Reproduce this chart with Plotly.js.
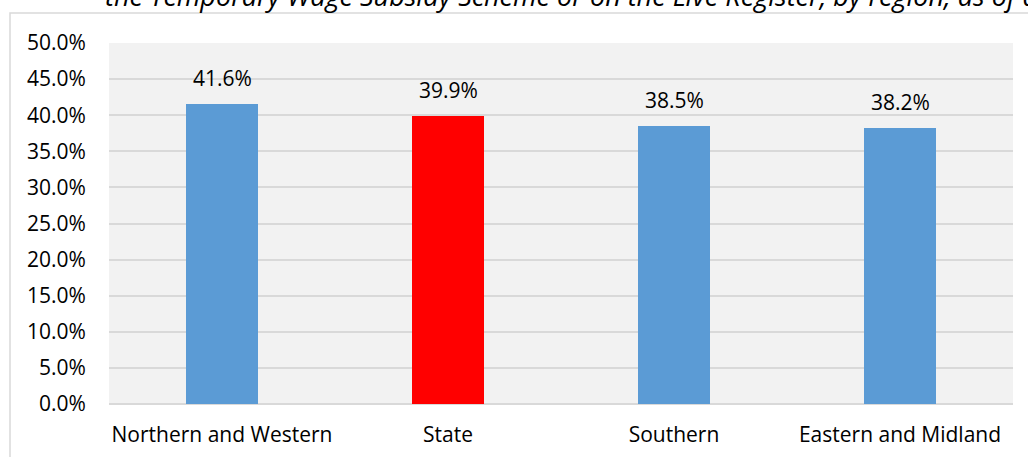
<!DOCTYPE html>
<html>
<head>
<meta charset="utf-8">
<script src="https://cdn.plot.ly/plotly-3.0.1.min.js"></script>
<style>html,body{margin:0;padding:0;background:#fff;}#chart{width:1028px;height:457px;}</style>
</head>
<body>
<div id="chart"></div>
<script>
const categories = ["Northern and Western", "State", "Southern", "Eastern and Midland"];
const values = [41.6, 39.9, 38.5, 38.2];
const barColors = ["#5b9bd5", "#ff0000", "#5b9bd5", "#5b9bd5"];
const yTickVals = [0, 5, 10, 15, 20, 25, 30, 35, 40, 45, 50];
const titleText = "the Temporary Wage Subsidy Scheme or on the Live Register, by region, as of d";

const FONT = "Open Sans, Noto Sans, sans-serif";

const trace = {
  type: "bar",
  x: categories,
  y: values,
  width: 0.32,
  marker: {color: barColors, line: {width: 0}},
  hoverinfo: "none"
};

const labelAnns = categories.map((c, i) => ({
  x: c, y: values[i], xref: "x", yref: "y",
  text: values[i].toFixed(1) + "%",
  showarrow: false, yanchor: "middle", yshift: 26,
  font: {family: FONT, size: 21, color: "#000"}
}));

const layout = {
  width: 1028, height: 457,
  margin: {l: 109, r: 15, t: 43, b: 53},
  paper_bgcolor: "#ffffff",
  plot_bgcolor: "#f2f2f2",
  showlegend: false,
  bargap: 0,
  xaxis: {
    range: [-0.5, 3.5],
    showgrid: false, zeroline: false, showline: false,
    ticks: "outside", ticklen: 12, tickcolor: "rgba(0,0,0,0)",
    tickfont: {family: FONT, size: 21, color: "#000"}
  },
  yaxis: {
    range: [0, 50],
    tickvals: yTickVals,
    ticktext: yTickVals.map(v => v.toFixed(1) + "%"),
    showgrid: true, gridcolor: "#d9d9d9", gridwidth: 2,
    zeroline: true, zerolinecolor: "#d9d9d9", zerolinewidth: 2,
    showline: false,
    ticks: "outside", ticklen: 18, tickcolor: "rgba(0,0,0,0)",
    tickfont: {family: FONT, size: 21, color: "#000"}
  },
  annotations: labelAnns.concat([{
    xref: "paper", yref: "paper",
    x: (103 - 109) / 904, y: 1 + (43 + 4) / 361,
    xanchor: "left", yanchor: "middle",
    text: titleText, showarrow: false,
    font: {family: FONT, size: 27, color: "#000", style: "italic"}
  }]),
  shapes: [{
    type: "rect", xref: "paper", yref: "paper",
    x0: (10 - 109) / 904, x1: 1.1,
    y0: -0.3, y1: 1 + (43 - 13) / 361,
    line: {color: "#d9d9d9", width: 1.5},
    fillcolor: "rgba(0,0,0,0)", layer: "below"
  }]
};

Plotly.newPlot("chart", [trace], layout, {staticPlot: true, displayModeBar: false});
</script>
</body>
</html>
